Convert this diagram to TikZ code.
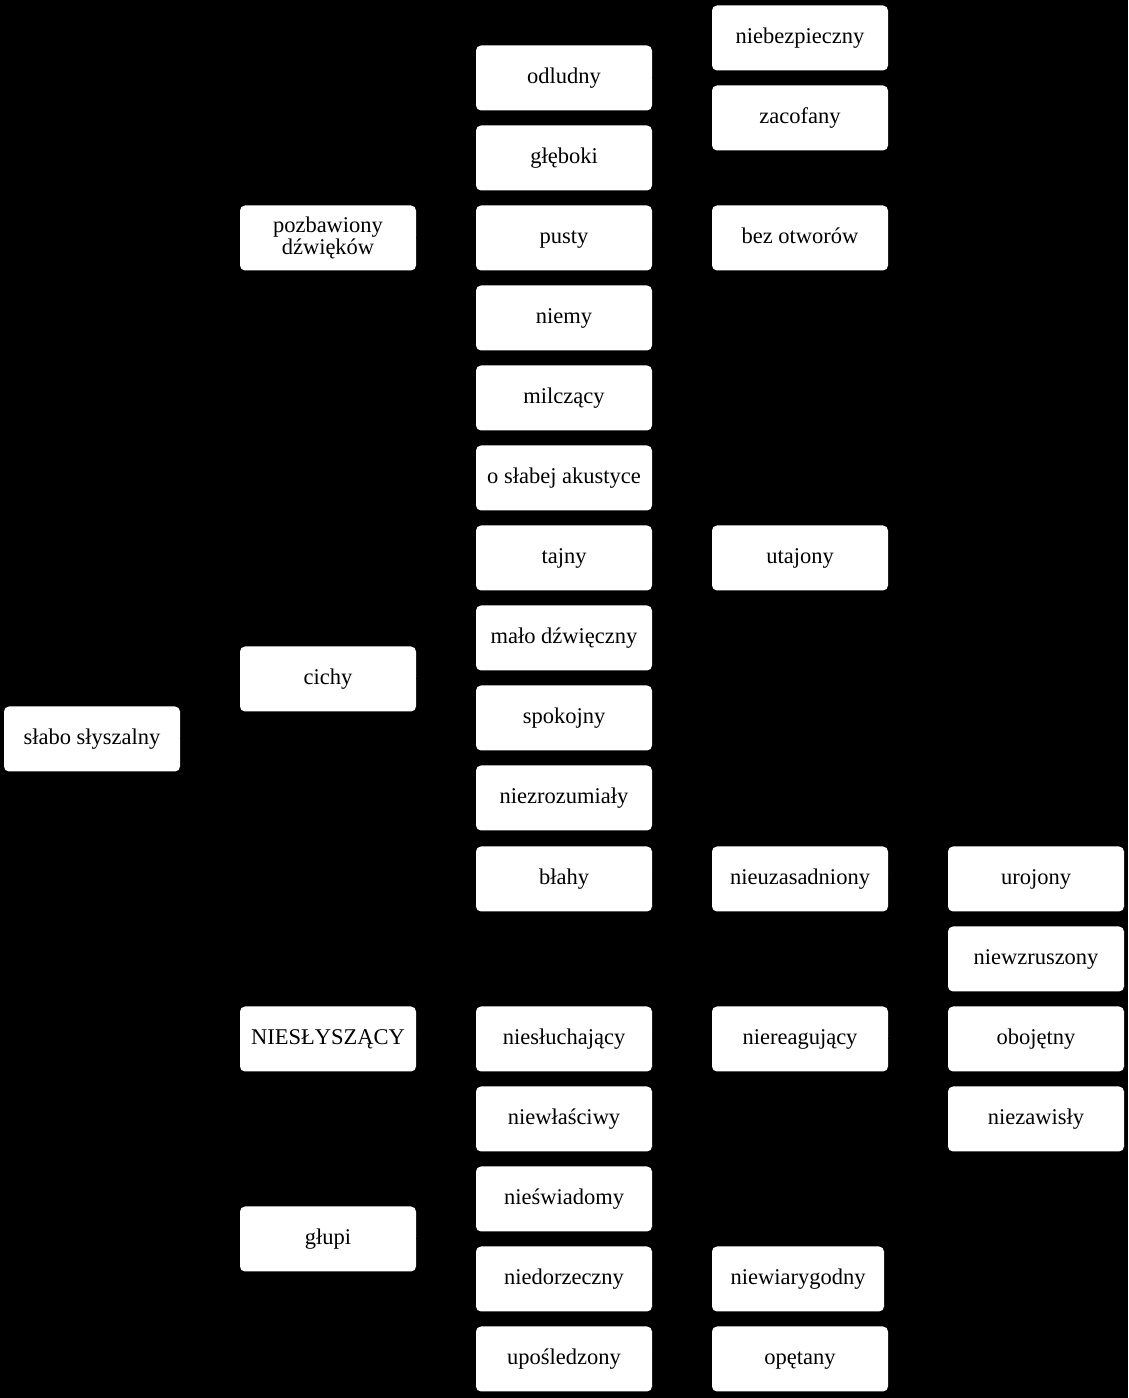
\documentclass[tikz,border=0pt]{standalone}
\usepackage{fontspec}
\setmainfont{Liberation Serif}
\begin{document}
\begin{tikzpicture}[x=1pt,y=1pt,
  term/.style={draw=none,fill=white,text=black,rounded corners=5pt,minimum width=176pt,minimum height=65pt,inner sep=0pt,align=center,text height=16pt,text depth=4pt,font=\fontsize{22.5}{22}\selectfont},
  twoline/.style={text height=,text depth=},
  link/.style={draw=black,line width=1pt}]
\fill[black] (0,0) rectangle (1128,1398);
\useasboundingbox (0,0) rectangle (1128,1398);
% column x centers
\def\ca{92}\def\cb{328}\def\cc{564}\def\cd{800}\def\ce{1036}
\node[term] (root) at (\ca,1398-739) {słabo słyszalny};
\node[term,twoline] (poz) at (\cb,1398-238) {pozbawiony\\dźwięków};
\node[term] (cichy) at (\cb,1398-679) {cichy};
\node[term] (nies) at (\cb,1398-1039) {NIESŁYSZĄCY};
\node[term] (glupi) at (\cb,1398-1239) {głupi};
\node[term] (odl) at (\cc,1398-78) {odludny};
\node[term] (gleb) at (\cc,1398-158) {głęboki};
\node[term] (pusty) at (\cc,1398-238) {pusty};
\node[term] (niemy) at (\cc,1398-318) {niemy};
\node[term] (milcz) at (\cc,1398-398) {milczący};
\node[term] (osl) at (\cc,1398-478) {o słabej akustyce};
\node[term] (tajny) at (\cc,1398-558) {tajny};
\node[term] (malo) at (\cc,1398-638) {mało dźwięczny};
\node[term] (spok) at (\cc,1398-718) {spokojny};
\node[term] (niezr) at (\cc,1398-798) {niezrozumiały};
\node[term] (blahy) at (\cc,1398-879) {błahy};
\node[term] (niesl) at (\cc,1398-1039) {niesłuchający};
\node[term] (niewl) at (\cc,1398-1119) {niewłaściwy};
\node[term] (niesw) at (\cc,1398-1199) {nieświadomy};
\node[term] (niedo) at (\cc,1398-1279) {niedorzeczny};
\node[term] (upos) at (\cc,1398-1359) {upośledzony};
\node[term] (niebez) at (\cd,1398-38) {niebezpieczny};
\node[term] (zacof) at (\cd,1398-118) {zacofany};
\node[term] (bezotw) at (\cd,1398-238) {bez otworów};
\node[term] (utaj) at (\cd,1398-558) {utajony};
\node[term] (nieuz) at (\cd,1398-879) {nieuzasadniony};
\node[term] (niere) at (\cd,1398-1039) {niereagujący};
\node[term,minimum width=172pt] (niewia) at (\cd-2,1398-1279) {niewiarygodny};
\node[term] (opet) at (\cd,1398-1359) {opętany};
\node[term] (uroj) at (\ce,1398-879) {urojony};
\node[term] (niewz) at (\ce,1398-959) {niewzruszony};
\node[term] (oboj) at (\ce,1398-1039) {obojętny};
\node[term] (niezaw) at (\ce,1398-1119) {niezawisły};
% connectors (black on black, as in the reference)
\foreach \p/\c in {root/poz,root/cichy,root/nies,root/glupi,
  poz/odl,poz/gleb,poz/pusty,poz/niemy,poz/milcz,
  cichy/osl,cichy/tajny,cichy/malo,cichy/spok,cichy/niezr,cichy/blahy,
  nies/niesl,glupi/niewl,glupi/niesw,glupi/niedo,glupi/upos,
  odl/niebez,odl/zacof,pusty/bezotw,tajny/utaj,blahy/nieuz,niesl/niere,
  niedo/niewia,upos/opet,nieuz/uroj,niere/niewz,niere/oboj,niere/niezaw}
  \draw[link] (\p.east) -- ++(30,0) |- (\c.west);
\end{tikzpicture}
\end{document}
